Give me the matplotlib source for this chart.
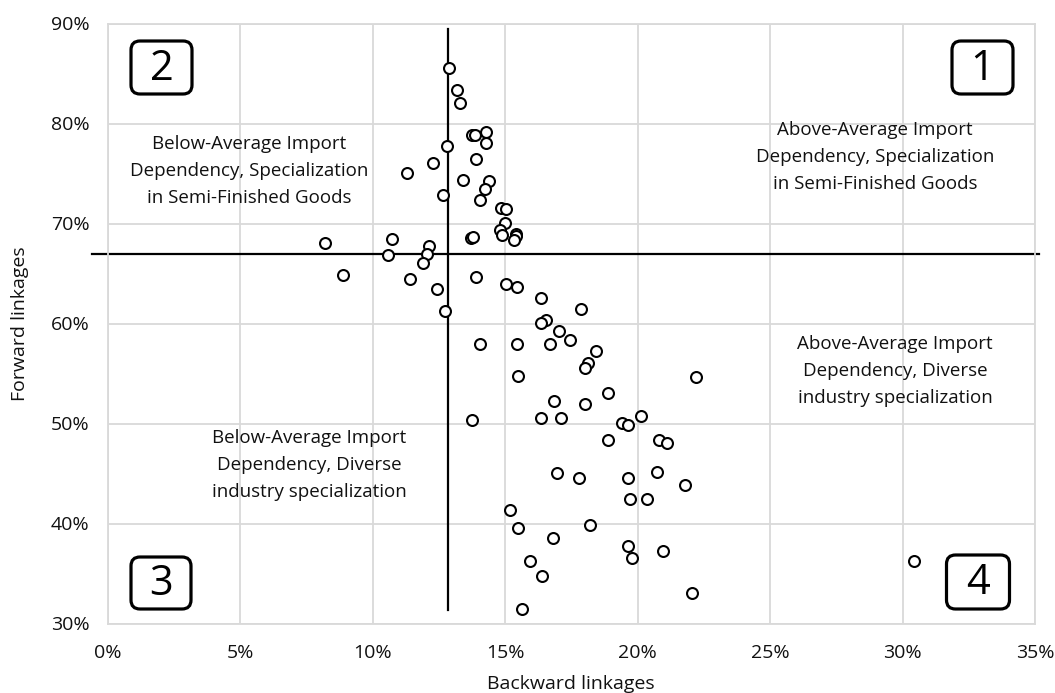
import matplotlib
matplotlib.use("Agg")
import matplotlib.pyplot as plt
from matplotlib.patches import FancyBboxPatch
from matplotlib.ticker import FuncFormatter, MultipleLocator

plt.rcParams['font.family'] = ['Open Sans', 'DejaVu Sans']

# backward linkages (%), forward linkages (%)
backward = [12.9, 13.2, 13.3, 14.3, 13.75, 13.85, 14.3, 12.8, 13.9, 12.3,
            11.3, 13.4, 14.4, 14.25, 14.05, 12.65, 14.85, 15.05, 15.0, 14.8,
            14.9, 15.4, 15.4, 15.35, 13.7, 13.8, 8.2, 10.75, 12.15, 10.6,
            12.05, 11.9, 8.9, 11.4, 13.9, 15.05, 15.45, 12.45, 12.75, 16.35,
            17.85, 16.55, 16.35, 17.05, 17.45, 14.05, 15.45, 16.7, 18.45, 18.15,
            18.0, 15.5, 22.2, 18.9, 16.85, 18.0, 13.75, 16.35, 17.1, 20.15,
            19.4, 19.65, 18.9, 20.8, 21.1, 16.95, 17.8, 19.65, 20.75, 21.8,
            19.7, 20.35, 15.2, 15.5, 18.2, 16.8, 19.65, 19.8, 20.95, 15.95,
            16.4, 22.05, 15.65, 30.45]
forward = [85.6, 83.4, 82.1, 79.2, 78.85, 78.85, 78.1, 77.8, 76.5, 76.1,
           75.05, 74.35, 74.25, 73.45, 72.4, 72.85, 71.55, 71.45, 70.1, 69.4,
           68.85, 69.0, 68.75, 68.35, 68.55, 68.7, 68.1, 68.45, 67.8, 66.9,
           67.0, 66.05, 64.9, 64.45, 64.65, 64.0, 63.7, 63.5, 61.3, 62.55,
           61.5, 60.35, 60.05, 59.3, 58.4, 58.0, 58.0, 58.0, 57.25, 56.05,
           55.6, 54.75, 54.65, 53.05, 52.3, 52.0, 50.35, 50.55, 50.55, 50.8,
           50.1, 49.85, 48.4, 48.4, 48.1, 45.05, 44.6, 44.6, 45.2, 43.85,
           42.5, 42.45, 41.4, 39.6, 39.9, 38.6, 37.75, 36.55, 37.3, 36.3,
           34.8, 33.05, 31.5, 36.3]

avg_backward = 12.86
avg_forward = 67.0

quadrant_text = [
    "Below-Average Import\nDependency, Specialization\nin Semi-Finished Goods",
    "Above-Average Import\nDependency, Specialization\nin Semi-Finished Goods",
    "Above-Average Import\nDependency, Diverse\nindustry specialization",
    "Below-Average Import\nDependency, Diverse\nindustry specialization",
]
quadrant_num = ["2", "1", "4", "3"]

fig = plt.figure(figsize=(10.55, 6.93), dpi=100)
ax = fig.add_axes([107.5 / 1055, 1 - 623.5 / 693, 927.5 / 1055, 600 / 693])

ax.set_xlim(0, 35)
ax.set_ylim(30, 90)
ax.xaxis.set_major_locator(MultipleLocator(5))
ax.yaxis.set_major_locator(MultipleLocator(10))
ax.xaxis.set_major_formatter(FuncFormatter(lambda v, p: "%d%%" % round(v)))
ax.yaxis.set_major_formatter(FuncFormatter(lambda v, p: "%d%%" % round(v)))
ax.grid(True, color='#d9d9d9', lw=1.3)
ax.set_axisbelow(True)
for s in ax.spines.values():
    s.set_color('#d9d9d9')
    s.set_linewidth(1.3)
ax.tick_params(length=0, labelsize=14, colors='#111111')
ax.tick_params(axis='x', pad=15)
ax.tick_params(axis='y', pad=13)

ax.set_xlabel("Backward linkages", fontsize=14, color='#111111', labelpad=9)
ax.set_ylabel("Forward linkages", fontsize=14, color='#111111', va='center')
ax.yaxis.set_label_coords(-0.094, 0.5)

# average lines
ax.plot([-0.57, 35.15], [avg_forward, avg_forward], color='black', lw=1.6, clip_on=False, zorder=2)
ax.plot([avg_backward, avg_backward], [31.35, 89.5], color='black', lw=1.6, zorder=2)

ax.scatter(backward, forward, s=62, facecolors='white', edgecolors='black', linewidths=1.5, zorder=3)

# quadrant descriptions
txt_pos = [(0.1526, 0.7542), (0.8275, 0.7775), (0.849, 0.4208), (0.2172, 0.2642)]
for (tx, ty), t in zip(txt_pos, quadrant_text):
    ax.text(tx, ty, t, transform=ax.transAxes, ha='center', va='center',
            fontsize=13.5, color='#111111', linespacing=1.62, zorder=4)

# numbered boxes (pixel boxes: left, top, right, bottom)
boxes = [(131, 41, 192, 94), (952, 41, 1013, 94), (946.5, 555, 1009.5, 609), (131, 557, 191, 609)]
for (l, t, r, b), n in zip(boxes, quadrant_num):
    x0, y0 = l / 100, (693 - b) / 100
    w, h = (r - l) / 100, (b - t) / 100
    p = FancyBboxPatch((x0, y0), w, h, boxstyle="round,pad=0,rounding_size=0.09",
                       transform=fig.dpi_scale_trans, fc='white', ec='black', lw=2.3)
    fig.add_artist(p)
    fig.text(x0 + w / 2, y0 + h / 2 - 0.01, n, transform=fig.dpi_scale_trans,
             ha='center', va='center', fontsize=30, color='black')

fig.savefig("out.png", dpi=100)
